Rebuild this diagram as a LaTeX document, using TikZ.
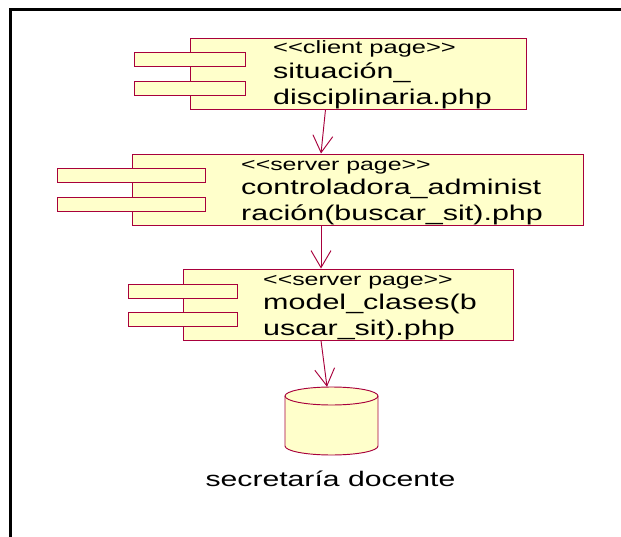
\documentclass[tikz,border=0pt]{standalone}
\usepackage{fontspec}
\usetikzlibrary{arrows.meta}
\setmainfont{Liberation Sans}
\newfontfamily\umlfont[FakeStretch=1.43]{Liberation Sans}
\newcommand{\pxu}{0.03cm}
\definecolor{umlline}{HTML}{A8003C}
\definecolor{umlfill}{HTML}{FFFFCB}
\tikzset{
  compbox/.style={draw=umlline, fill=umlfill, line width=0.8pt, rectangle, inner sep=0pt, minimum height=71*\pxu},
  comptab/.style={draw=umlline, fill=umlfill, line width=0.8pt, rectangle, inner sep=0pt, minimum height=14*\pxu},
  stereotext/.style={font=\umlfont\fontsize{15.2}{18}\selectfont, inner sep=0pt, anchor=base west},
  servertext/.style={stereotext, font=\umlfont\fontsize{14.85}{18}\selectfont},
  nametext/.style={font=\umlfont\fontsize{18.2}{21.8}\selectfont, inner sep=0pt, anchor=north west, align=left},
  dep/.style={draw=umlline, line width=0.8pt, -{Straight Barb[length=14.5pt, width=17pt]}}
}

\begin{document}
\begin{tikzpicture}[x=\pxu, y=-\pxu]
    \useasboundingbox (0,0) rectangle (621,537);
    \fill[white] (0,0) rectangle (621,537);
    \draw[line width=2.9pt] (10.5,537) -- (10.5,9.5) -- (621,9.5);

    \node[compbox, minimum width=336*\pxu] (situacion) at (358,73.5) {};
    \node[comptab, minimum width=111*\pxu] (situacionA) at (189.5,59) {};
    \node[comptab, minimum width=111*\pxu] (situacionB) at (189.5,88) {};
    \node[stereotext] (situacionS) at (273,54) {<<client page>>};
    \node[nametext] (situacionN) at (273,63) {situación\_\\disciplinaria.php};

    \node[compbox, minimum width=451*\pxu] (controladora) at (357.5,189.5) {};
    \node[comptab, minimum width=148*\pxu] (controladoraA) at (131,175) {};
    \node[comptab, minimum width=148*\pxu] (controladoraB) at (131,204) {};
    \node[servertext] (controladoraS) at (241,170) {<<server page>>};
    \node[nametext] (controladoraN) at (241,179) {controladora\_administ\\ración(buscar\_sit).php};

    \node[compbox, minimum width=330*\pxu] (modelo) at (348,304.5) {};
    \node[comptab, minimum width=109*\pxu] (modeloA) at (182.5,291) {};
    \node[comptab, minimum width=109*\pxu] (modeloB) at (182.5,319) {};
    \node[servertext] (modeloS) at (263,285) {<<server page>>};
    \node[nametext] (modeloN) at (263,294) {model\_clases(b\\uscar\_sit).php};

    \node[inner sep=0pt, minimum width=93*\pxu, minimum height=68*\pxu] (secretaria) at (331.5,421) {};
    \draw[draw=umlline, fill=umlfill, line width=0.8pt] (285,396)
      arc[start angle=180, end angle=0, x radius=46.5*\pxu, y radius=9*\pxu] -- (378,446)
      arc[start angle=0, end angle=-180, x radius=46.5*\pxu, y radius=9*\pxu] -- cycle;
    \draw[draw=umlline, line width=0.8pt] (285,396)
      arc[start angle=180, end angle=360, x radius=46.5*\pxu, y radius=9*\pxu];
    \node[font=\umlfont\fontsize{18}{21.8}\selectfont, inner sep=0pt, anchor=base] (secretariaL) at (330.5,486) {secretaría docente};

    \draw[dep] ([xshift=-32.5*\pxu]situacion.south) -- ([xshift=-36.5*\pxu]controladora.north);
    \draw[dep] ([xshift=-36.5*\pxu]controladora.south) -- ([xshift=-27*\pxu]modelo.north);
    \draw[dep] ([xshift=-27*\pxu]modelo.south) -- ([xshift=-4.5*\pxu]secretaria.north);
\end{tikzpicture}
\end{document}
